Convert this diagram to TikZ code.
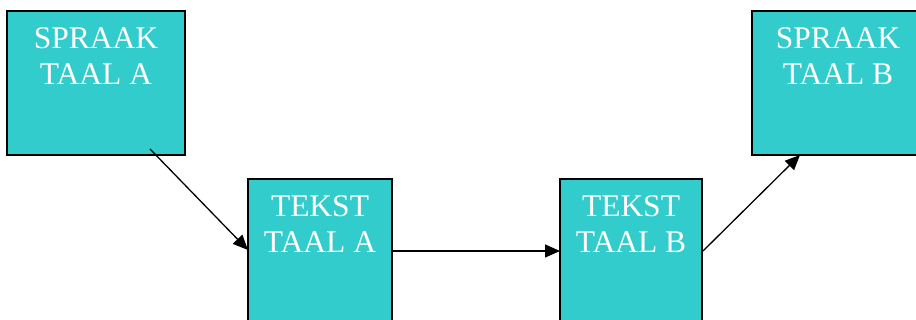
\documentclass[tikz,border=0pt]{standalone}
\usepackage{fontspec}
\setmainfont{Liberation Serif}
\usetikzlibrary{arrows.meta,calc}
\definecolor{boxfill}{RGB}{51,204,204}
\tikzset{
  stage/.style={draw=black, line width=1.8pt, fill=boxfill, rectangle,
    inner sep=0pt, outer sep=0pt},
  stagetext/.style={text=white, align=center, inner sep=0pt,
    font=\fontsize{31.5}{36}\selectfont},
  flow/.style={line width=1.3pt, -{Triangle[length=15pt,width=13pt]}}
}
\begin{document}
\begin{tikzpicture}[x=1pt,y=1pt]
  \useasboundingbox (0,0) rectangle (916,320);
  \clip (0,0) rectangle (916,320);
  % four stages: speech and text in language A and B
  \node[stage, minimum width=178pt, minimum height=144pt] (sa) at (96,237) {};
  \node[stage, minimum width=144pt, minimum height=161pt] (ta) at (320,60.5) {};
  \node[stage, minimum width=142pt, minimum height=161pt] (tb) at (631,60.5) {};
  \node[stage, minimum width=188pt, minimum height=144pt] (sb) at (846,237) {};
  % labels near the top of each stage
  \node[stagetext, anchor=north] (lsa) at ($(sa.north)+(0,-16)$) {SPRAAK\\TAAL A};
  \node[stagetext, anchor=north] (lta) at ($(ta.north)+(0,-16)$) {TEKST\\TAAL A};
  \node[stagetext, anchor=north] (ltb) at ($(tb.north)+(0,-16)$) {TEKST\\TAAL B};
  \node[stagetext, anchor=north] (lsb) at ($(sb.north west)+(86,-16)$) {SPRAAK\\TAAL B};
  % connector end points
  \coordinate (a1) at ($(sa.south west)+(143,6)$);
  \coordinate (b1) at ($(ta.north west)+(0,-71)$);
  \coordinate (a2) at ($(ta.north east)+(0,-72)$);
  \coordinate (b2) at ($(tb.north west)+(0,-72)$);
  \coordinate (a3) at ($(tb.north east)+(1,-72)$);
  \coordinate (b3) at ($(sb.south west)+(48,0)$);
  \draw[flow] (a1) -- (b1);
  \draw[flow] (a2) -- (b2);
  \draw[flow] (a3) -- (b3);
\end{tikzpicture}
\end{document}
